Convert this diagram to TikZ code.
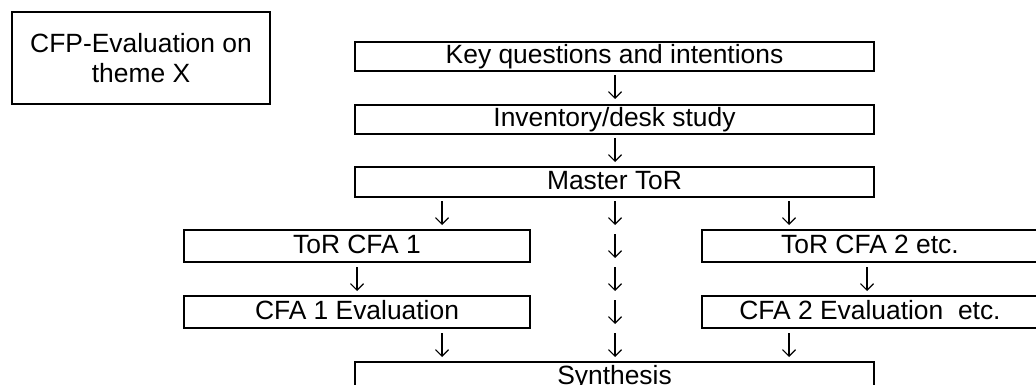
\documentclass[tikz,border=0pt]{standalone}
\usepackage{fontspec}
\setmainfont{Liberation Sans}
\usetikzlibrary{arrows.meta}
\begin{document}
\begin{tikzpicture}[x=1pt,y=-1pt,
  box/.style={draw=black, line width=1.2pt, rectangle, inner sep=0pt,
    font=\fontsize{26.4}{30}\selectfont, text height=19pt, text depth=5pt},
  dn/.style={draw=black, line width=1.2pt,
    -{Straight Barb[length=6.5pt, width=13pt]}}]
  \useasboundingbox (0,0) rectangle (1036,385);
  \clip (0,0) rectangle (1036,385);

  % title box
  \node[box, minimum width=258pt, minimum height=92pt, align=center,
        text height=, text depth=]
    (cfp) at (141,58) {CFP-Evaluation on\\theme X};

  % main column
  \node[box, minimum width=519pt, minimum height=29pt] (key) at (614.5,56.5) {Key questions and intentions};
  \node[box, minimum width=519pt, minimum height=29pt] (inv) at (614.5,119.5) {Inventory/desk study};
  \node[box, minimum width=519pt, minimum height=30pt] (mtor) at (614.5,182) {Master ToR};

  % CFA branches
  \node[box, minimum width=346pt, minimum height=32pt] (tor1) at (357,246) {ToR CFA 1};
  \node[box, minimum width=346pt, minimum height=32pt] (ev1) at (357,312) {CFA 1 Evaluation};
  \node[box, minimum width=336pt, minimum height=32pt] (tor2) at (870,246) {ToR CFA 2 etc.};
  \node[box, minimum width=336pt, minimum height=32pt] (ev2) at (870,312) {CFA 2 Evaluation~ etc.};

  % synthesis
  \node[box, minimum width=519pt, minimum height=30pt] (syn) at (614.5,377) {Synthesis};

  % arrow end points
  \coordinate (a1s) at (615,75);  \coordinate (a1e) at (615,99);
  \coordinate (a2s) at (615,138); \coordinate (a2e) at (615,162);
  \coordinate (b1s) at (442,201); \coordinate (b1e) at (442,225);
  \coordinate (b2s) at (615,201); \coordinate (b2e) at (615,225);
  \coordinate (b3s) at (789,201); \coordinate (b3e) at (789,225);
  \coordinate (c1s) at (357,267); \coordinate (c1e) at (357,291);
  \coordinate (c2s) at (615,234); \coordinate (c2e) at (615,258);
  \coordinate (c3s) at (615,267); \coordinate (c3e) at (615,291);
  \coordinate (c4s) at (867,267); \coordinate (c4e) at (867,291);
  \coordinate (c5s) at (615,300); \coordinate (c5e) at (615,324);
  \coordinate (d1s) at (442,333); \coordinate (d1e) at (442,357);
  \coordinate (d2s) at (615,333); \coordinate (d2e) at (615,357);
  \coordinate (d3s) at (789,333); \coordinate (d3e) at (789,357);

  % downward arrows
  \foreach \a in {a1,a2,b1,b2,b3,c1,c2,c3,c4,c5,d1,d2,d3}
    \draw[dn] (\a s) -- (\a e);
\end{tikzpicture}
\end{document}
